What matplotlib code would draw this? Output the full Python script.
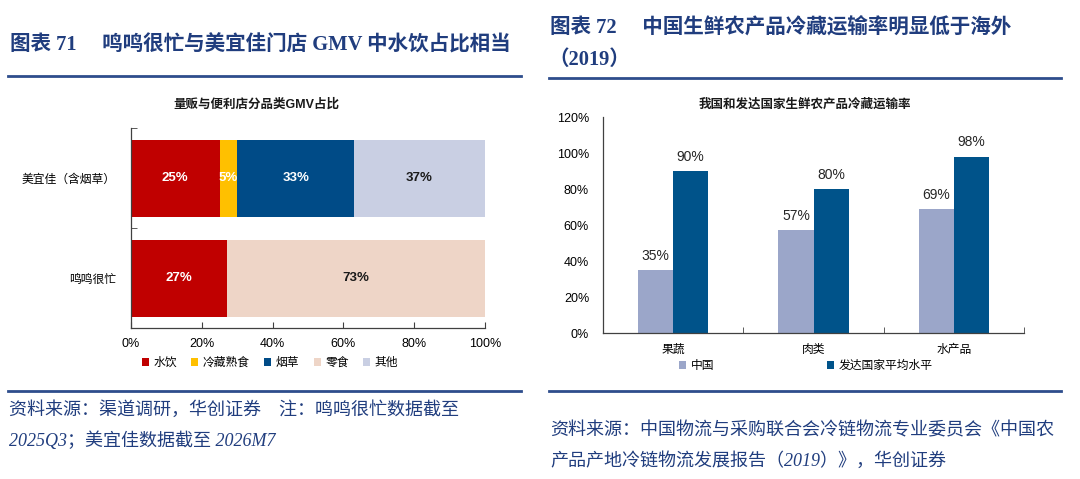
import numpy as np
import matplotlib.pyplot as plt
import matplotlib as mpl

mpl.rcParams['font.family'] = ['Liberation Sans', 'Noto Sans CJK SC', 'DejaVu Sans']
mpl.rcParams['axes.unicode_minus'] = False

# ---- data: left chart ----
stores = ['美宜佳（含烟草）', '鸣鸣很忙']
segments = ['水饮', '冷藏熟食', '烟草', '零食', '其他']
meiyijia = [25, 5, 33, 0, 37]
mingming = [27, 0, 0, 73, 0]
x_ticks_left = [0, 20, 40, 60, 80, 100]

# ---- data: right chart ----
goods = ['果蔬', '肉类', '水产品']
china = [35, 57, 69]
developed = [90, 80, 98]
series_right = ['中国', '发达国家平均水平']
y_ticks_right = [0, 20, 40, 60, 80, 100, 120]

seg_colors = ['#C00000', '#FFC000', '#004B87', '#EED5C7', '#C9CFE3']
seg_text = ['white', 'white', 'white', '#1a1a1a', '#1a1a1a']
right_colors = ['#9BA6C9', '#00538A']
title_blue = '#203D7E'
line_blue = '#2E4D8C'
serif = ['Liberation Serif', 'Noto Sans CJK SC']

W, H = 1080, 479
fig = plt.figure(figsize=(W / 100, H / 100), dpi=100)


def fx(px):
    return px / W


def fy(py):
    return 1 - py / H


def box(l, t, r, b):
    return [fx(l), fy(b), (r - l) / W, (b - t) / H]


# ---- headers and footers ----
fig.text(fx(10), fy(45), '图表 71　 鸣鸣很忙与美宜佳门店 GMV 中水饮占比相当',
         family=serif, weight='bold', fontsize=14.8, color=title_blue, va='center')
fig.text(fx(550), fy(28), '图表 72　 中国生鲜农产品冷藏运输率明显低于海外',
         family=serif, weight='bold', fontsize=14.8, color=title_blue, va='center')
fig.text(fx(548), fy(60), '（2019）',
         family=serif, weight='bold', fontsize=14.8, color=title_blue, va='center')

for x0, x1, y in [(8, 521, 76), (549, 1061, 78), (8, 521, 391), (549, 1061, 391)]:
    fig.add_artist(plt.Line2D([fx(x0), fx(x1)], [fy(y), fy(y)], color=line_blue, lw=2))

fig.text(fx(9), fy(410), '资料来源：渠道调研，华创证券　注：鸣鸣很忙数据截至',
         family=serif, style='italic', fontsize=13, color=title_blue, va='center')
fig.text(fx(9), fy(441), '2025Q3；美宜佳数据截至 2026M7',
         family=serif, style='italic', fontsize=13, color=title_blue, va='center')
fig.text(fx(550), fy(431), '资料来源：中国物流与采购联合会冷链物流专业委员会《中国农',
         family=serif, style='italic', fontsize=13, color=title_blue, va='center')
fig.text(fx(550), fy(461), '产品产地冷链物流发展报告（2019）》，华创证券',
         family=serif, style='italic', fontsize=13, color=title_blue, va='center')

# ---- left chart ----
ax1 = fig.add_axes(box(131, 128, 485, 328))
rows = [meiyijia, mingming]
ypos = [1, 0]
for j, name in enumerate(segments):
    lefts = [sum(r[:j]) for r in rows]
    vals = [r[j] for r in rows]
    bars = ax1.barh(ypos, vals, left=lefts, height=0.77, color=seg_colors[j], label=name)
    for b, v in zip(bars, vals):
        if v > 0:
            ax1.text(b.get_x() + b.get_width() / 2, b.get_y() + b.get_height() / 2,
                     f'{v}%', ha='center', va='center', fontsize=9.5,
                     weight='bold', color=seg_text[j])

ax1.set_xlim(0, 100)
ax1.set_ylim(-0.5, 1.5)
ax1.set_xticks(x_ticks_left)
ax1.set_xticklabels([f'{t}%' for t in x_ticks_left])
ax1.set_yticks(ypos)
ax1.set_yticklabels(stores, fontsize=8.5)
ax1.set_yticks([-0.5, 0.5, 1.5], minor=True)
ax1.tick_params(axis='y', which='major', length=0, pad=11)
ax1.tick_params(axis='y', which='minor', length=4, direction='in', color='#404040')
ax1.tick_params(axis='x', length=4, direction='in', labelsize=9, color='#404040', pad=7)
for s in ['top', 'right']:
    ax1.spines[s].set_visible(False)
for s in ['left', 'bottom']:
    ax1.spines[s].set_color('#404040')
    ax1.spines[s].set_linewidth(0.9)
fig.text(fx(256), fy(105), '量贩与便利店分品类GMV占比', weight='bold', fontsize=9,
         ha='center', va='center', color='#1a1a1a')
fig.legend(*ax1.get_legend_handles_labels(), loc='center', bbox_to_anchor=(fx(270), fy(363)),
           ncol=5, frameon=False, fontsize=8.5, handlelength=0.6, handleheight=0.6,
           handletextpad=0.4, columnspacing=1.2)

# ---- right chart ----
ax2 = fig.add_axes(box(603, 117, 1024, 333))
xs = np.arange(len(goods))
bw = 0.25
b1 = ax2.bar(xs - bw / 2, china, width=bw, color=right_colors[0], label=series_right[0])
b2 = ax2.bar(xs + bw / 2, developed, width=bw, color=right_colors[1], label=series_right[1])
for bars in (b1, b2):
    for b in bars:
        ax2.text(b.get_x() + b.get_width() / 2, b.get_height() + 4, f'{b.get_height():.0f}%',
                 ha='center', va='bottom', fontsize=10, color='#262626')
ax2.set_xlim(-0.5, 2.5)
ax2.set_ylim(0, 120)
ax2.set_yticks(y_ticks_right)
ax2.set_yticklabels([f'{t}%' for t in y_ticks_right])
ax2.set_xticks(xs)
ax2.set_xticklabels(goods, fontsize=8.5)
ax2.set_xticks([-0.5, 0.5, 1.5, 2.5], minor=True)
ax2.tick_params(axis='x', which='major', length=0, pad=8)
ax2.tick_params(axis='x', which='minor', length=4, direction='in', color='#404040')
ax2.tick_params(axis='y', length=0, labelsize=9, pad=10)
for s in ['top', 'right']:
    ax2.spines[s].set_visible(False)
for s in ['left', 'bottom']:
    ax2.spines[s].set_color('#404040')
    ax2.spines[s].set_linewidth(0.9)
fig.text(fx(805), fy(105), '我国和发达国家生鲜农产品冷藏运输率', weight='bold', fontsize=9,
         ha='center', va='center', color='#1a1a1a')
fig.legend(*ax2.get_legend_handles_labels(), loc='center', bbox_to_anchor=(fx(806), fy(366)),
           ncol=2, frameon=False, fontsize=8.5, handlelength=0.6, handleheight=0.6,
           handletextpad=0.4, columnspacing=9.5)

fig.savefig('out.png', dpi=100)
